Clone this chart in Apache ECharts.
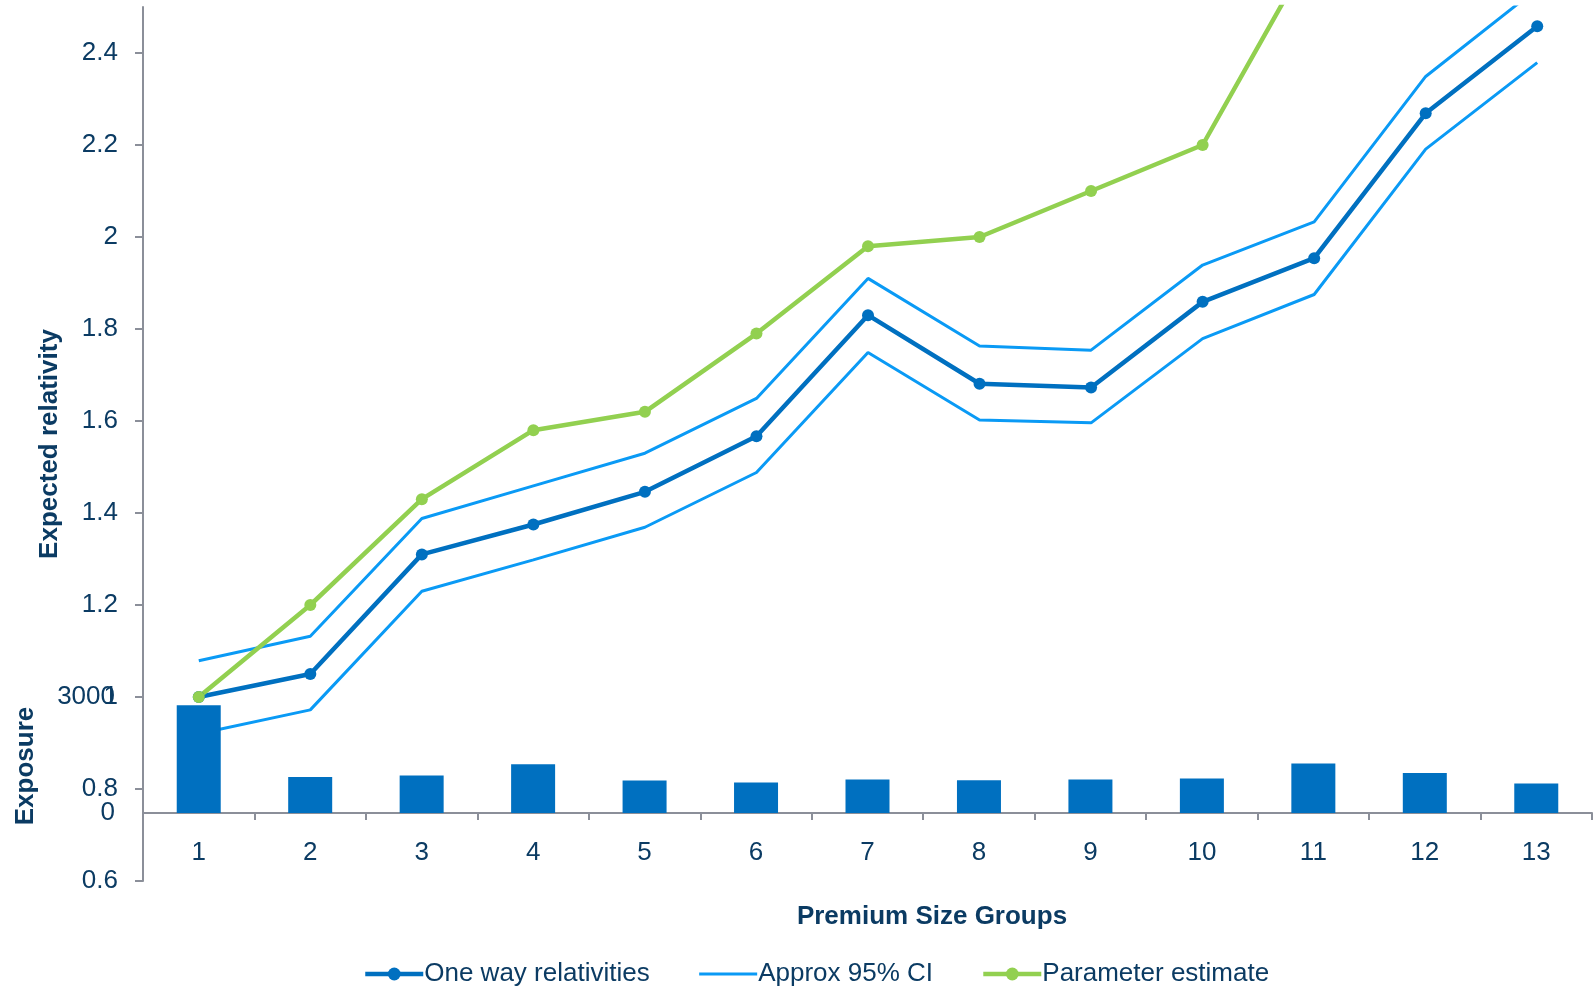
<!DOCTYPE html>
<html>
<head>
<meta charset="utf-8">
<script src="https://cdn.jsdelivr.net/npm/echarts@6/dist/echarts.min.js"></script>
<style>
html,body{margin:0;padding:0;background:#fff;}
#chart{width:1593px;height:989px;}
</style>
</head>
<body>
<div id="chart"></div>
<script>
// ---- data ----
const categories = ['1','2','3','4','5','6','7','8','9','10','11','12','13'];
const oneWay    = [1.00, 1.05, 1.31, 1.375, 1.446, 1.567, 1.83, 1.681, 1.673, 1.859, 1.954, 2.269, 2.458];
const ciUpper   = [1.079, 1.132, 1.388, 1.459, 1.530, 1.649, 1.910, 1.763, 1.754, 1.939, 2.033, 2.349, 2.54];
const ciLower   = [0.92, 0.972, 1.23, 1.298, 1.369, 1.488, 1.749, 1.602, 1.596, 1.779, 1.875, 2.191, 2.379];
const paramEst  = [1.00, 1.20, 1.43, 1.58, 1.62, 1.79, 1.98, 2.00, 2.10, 2.20, 2.63, 3.0, 3.3];
const exposure  = [2785, 931, 970, 1262, 840, 789, 866, 848, 866, 892, 1278, 1034, 760];
const relativityTicks = [0.6, 0.8, 1.0, 1.2, 1.4, 1.6, 1.8, 2.0, 2.2, 2.4];
const exposureTicks = [0, 3000];

const NAVY = '#0b3b63';
const AXIS = '#8b8f99';
const FONT = '"Liberation Sans", Arial, sans-serif';
const FS = 26;

const chart = echarts.init(document.getElementById('chart'), null, {renderer: 'canvas'});

const option = {
  animation: false,
  backgroundColor: '#ffffff',
  textStyle: {fontFamily: FONT},
  grid: [
    {left: 143, top: 7, width: 1461.5, bottom: 108, containLabel: false},
    {left: 143, top: 697, right: 1, bottom: 176, containLabel: false}
  ],
  legend: {
    data: [
      {name: 'One way relativities', lineStyle: {width: 4.5}},
      {name: 'Approx 95% CI', itemStyle: {opacity: 0}, lineStyle: {width: 3}},
      {name: 'Parameter estimate', lineStyle: {width: 4.5}}
    ],
    left: 358, top: 956,
    itemWidth: 58, itemHeight: 16, itemGap: 48,
    lineStyle: {width: 4.5},
    textStyle: {fontSize: FS, color: NAVY, fontFamily: FONT, padding: [0,0,0,-4]}
  },
  graphic: [{
    type: 'text', x: 932, y: 917,
    style: {text: 'Premium Size Groups', textAlign: 'center', textVerticalAlign: 'middle',
            font: 'bold 26px ' + FONT, fill: NAVY}
  }],
  xAxis: [
    {type: 'category', gridIndex: 0, data: categories, show: false, boundaryGap: true},
    {type: 'category', gridIndex: 1, data: categories, boundaryGap: true,
     axisLine: {show: true, lineStyle: {color: AXIS, width: 2}},
     axisTick: {show: true, length: 7, lineStyle: {color: AXIS, width: 2}},
     axisLabel: {fontSize: FS, color: NAVY, margin: 27, fontFamily: FONT}}
  ],
  yAxis: [
    {type: 'value', gridIndex: 0, min: 0.6, max: 2.5, interval: 0.2,
     name: 'Expected relativity', nameLocation: 'middle', nameGap: 80,
     nameTextStyle: {fontSize: FS, fontWeight: 'bold', color: NAVY, fontFamily: FONT},
     axisLine: {show: true, lineStyle: {color: AXIS, width: 2}},
     axisTick: {show: true, length: 8, customValues: relativityTicks, lineStyle: {color: AXIS, width: 2}},
     axisLabel: {fontSize: FS, color: NAVY, margin: 25, fontFamily: FONT, customValues: relativityTicks,
                 formatter: v => String(parseFloat(Number(v).toFixed(1)))},
     splitLine: {show: false}},
    {type: 'value', gridIndex: 1, min: 0, max: 3000, interval: 3000,
     name: 'Exposure', nameLocation: 'middle', nameGap: 104,
     nameTextStyle: {fontSize: FS, fontWeight: 'bold', color: NAVY, fontFamily: FONT, padding: [0, 22, 0, 0]},
     axisLine: {show: false}, axisTick: {show: false},
     axisLabel: {fontSize: FS, color: NAVY, margin: 28, fontFamily: FONT, customValues: exposureTicks,
                 formatter: v => String(Math.round(v))},
     splitLine: {show: false}}
  ],
  series: [
    {name: 'Approx 95% CI', type: 'line', xAxisIndex: 0, yAxisIndex: 0, data: ciUpper,
     symbol: 'none', lineStyle: {color: '#0a9af5', width: 3}, itemStyle: {color: '#0a9af5'}, z: 2},
    {name: 'Approx 95% CI', type: 'line', xAxisIndex: 0, yAxisIndex: 0, data: ciLower,
     symbol: 'none', lineStyle: {color: '#0a9af5', width: 3}, itemStyle: {color: '#0a9af5'}, z: 2},
    {name: 'One way relativities', type: 'line', xAxisIndex: 0, yAxisIndex: 0, data: oneWay,
     symbol: 'circle', symbolSize: 12, lineStyle: {color: '#0070c0', width: 4.5}, itemStyle: {color: '#0070c0'}, z: 3},
    {name: 'Parameter estimate', type: 'line', xAxisIndex: 0, yAxisIndex: 0, data: paramEst,
     symbol: 'circle', symbolSize: 12, lineStyle: {color: '#92d050', width: 4.5}, itemStyle: {color: '#92d050'}, z: 3},
    {name: 'Exposure', type: 'bar', xAxisIndex: 1, yAxisIndex: 1, data: exposure,
     barWidth: 44, itemStyle: {color: '#0070c0'}, z: 4}
  ]
};
chart.setOption(option);
</script>
</body>
</html>
